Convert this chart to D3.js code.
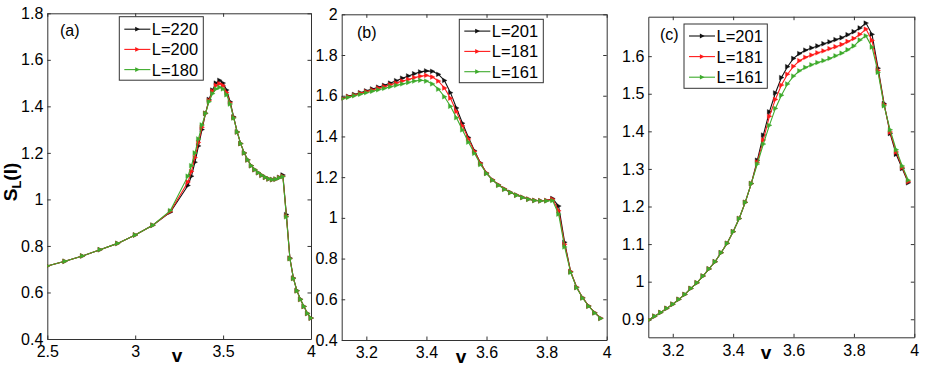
<!DOCTYPE html>
<html><head><meta charset="utf-8">
<script src="https://cdn.jsdelivr.net/npm/d3@7"></script>
<style>html,body{margin:0;padding:0;background:#fff;} svg{display:block;font-family:"Liberation Sans",Arial,Helvetica,sans-serif;}</style>
</head><body>
<div id="chart"></div>
<script>
// ---------- Data ----------
// Panel (a)
const xA = [2.5,2.6,2.7,2.8,2.9,3.0,3.1,3.2,
  3.30,3.32,3.34,3.36,3.38,3.40,3.42,3.44,3.46,3.48,3.50,3.52,3.54,3.56,3.58,3.60,3.62,3.64,3.66,3.68,3.70,3.72,3.74,3.76,3.78,3.80,3.82,3.84,
  3.86,3.88,3.90,3.92,3.94,3.96,3.98,4.00];
const a220 = [0.714,0.734,0.757,0.784,0.811,0.847,0.889,0.945,
  1.06,1.10,1.16,1.23,1.30,1.37,1.43,1.47,1.50,1.512,1.50,1.47,1.42,1.355,1.29,1.24,1.20,1.17,1.145,1.128,1.115,1.104,1.095,1.088,1.085,1.087,1.095,1.105,
  0.935,0.748,0.662,0.608,0.571,0.54,0.51,0.49];
const a200 = [0.714,0.734,0.757,0.784,0.811,0.847,0.889,0.948,
  1.075,1.12,1.18,1.245,1.31,1.37,1.425,1.465,1.49,1.498,1.49,1.46,1.415,1.352,1.29,1.24,1.20,1.17,1.145,1.128,1.115,1.104,1.095,1.088,1.085,1.087,1.094,1.10,
  0.928,0.746,0.661,0.607,0.57,0.54,0.51,0.49];
const a180 = [0.714,0.734,0.757,0.784,0.811,0.847,0.889,0.952,
  1.10,1.145,1.20,1.26,1.32,1.37,1.42,1.455,1.475,1.482,1.475,1.45,1.41,1.35,1.29,1.24,1.20,1.17,1.145,1.128,1.115,1.104,1.095,1.088,1.085,1.087,1.093,1.098,
  0.925,0.745,0.66,0.607,0.57,0.54,0.51,0.49];

// Panels (b) and (c) share the same v grid
const xBC = [3.12,3.14,3.16,3.18,3.20,3.22,3.24,3.26,3.28,3.30,3.32,3.34,3.36,3.38,3.40,3.42,3.44,3.46,3.48,3.50,
  3.52,3.54,3.56,3.58,3.60,3.62,3.64,3.66,3.68,3.70,3.72,3.74,3.76,3.78,3.80,3.82,3.84,3.86,3.88,3.90,3.92,3.94,3.96,3.98];
const b201 = [1.588,1.597,1.606,1.615,1.624,1.633,1.642,1.651,1.662,1.674,1.686,1.697,1.708,1.717,1.722,1.72,1.705,1.675,1.615,1.54,
  1.465,1.395,1.33,1.27,1.22,1.187,1.162,1.142,1.125,1.112,1.101,1.092,1.086,1.084,1.085,1.095,1.058,0.88,0.736,0.659,0.608,0.567,0.534,0.507];
const b181 = [1.586,1.595,1.603,1.612,1.620,1.628,1.637,1.645,1.654,1.663,1.672,1.680,1.689,1.696,1.700,1.692,1.672,1.638,1.588,1.522,
  1.452,1.388,1.326,1.268,1.22,1.187,1.162,1.142,1.125,1.112,1.101,1.092,1.086,1.084,1.085,1.092,1.035,0.87,0.736,0.659,0.608,0.567,0.534,0.507];
const b161 = [1.585,1.592,1.600,1.607,1.615,1.622,1.629,1.636,1.644,1.651,1.658,1.665,1.672,1.676,1.672,1.658,1.632,1.595,1.548,1.492,
  1.432,1.372,1.317,1.262,1.218,1.185,1.16,1.14,1.124,1.111,1.10,1.091,1.085,1.083,1.083,1.085,1.018,0.857,0.732,0.657,0.606,0.566,0.533,0.506];

const c201 = [0.898,0.908,0.918,0.929,0.94,0.953,0.966,0.982,0.997,1.015,1.034,1.053,1.077,1.102,1.133,1.168,1.211,1.261,
  1.323,1.39,1.452,1.502,1.543,1.572,1.594,1.607,1.616,1.622,1.627,1.633,1.638,1.644,1.649,1.657,1.665,1.675,1.688,
  1.658,1.568,1.474,1.394,1.339,1.301,1.263];
const c181 = [0.898,0.908,0.918,0.929,0.94,0.953,0.966,0.982,0.997,1.015,1.034,1.053,1.077,1.102,1.133,1.168,1.211,1.261,
  1.318,1.377,1.44,1.485,1.523,1.552,1.573,1.588,1.597,1.603,1.609,1.614,1.62,1.625,1.631,1.639,1.647,1.658,1.672,
  1.642,1.562,1.471,1.398,1.345,1.304,1.266];
const c161 = [0.898,0.908,0.918,0.929,0.94,0.953,0.966,0.982,0.997,1.015,1.034,1.053,1.077,1.102,1.133,1.168,1.211,1.261,
  1.313,1.366,1.416,1.461,1.496,1.526,1.547,1.561,1.57,1.577,1.583,1.588,1.594,1.601,1.608,1.617,1.627,1.643,1.654,
  1.624,1.557,1.468,1.404,1.351,1.308,1.27];

// Legends / labels
const legendA = ["L=220","L=200","L=180"];
const legendBC = ["L=201","L=181","L=161"];
const panelLabels = ["(a)","(b)","(c)"];
const xLabel = "v";

// Ticks
const xTicksA = [2.5,3,3.5,4];
const yTicksA = [0.4,0.6,0.8,1,1.2,1.4,1.6,1.8];
const xTicksB = [3.2,3.4,3.6,3.8,4];
const yTicksB = [0.4,0.6,0.8,1,1.2,1.4,1.6,1.8,2];
const xTicksC = [3.2,3.4,3.6,3.8,4];
const yTicksC = [0.9,1,1.1,1.2,1.3,1.4,1.5,1.6];

const colors = ["#111111","#ff1a1a","#3eab2c"];

// ---------- Drawing ----------
const W = 926, H = 382;
const svg = d3.select("#chart").append("svg").attr("width", W).attr("height", H);
const fmt = d => String(d);
const tri = "M-2.1,-2.4L2.6,0L-2.1,2.4Z";

function panel(cfg) {
  const x = d3.scaleLinear().domain(cfg.xDomain).range(cfg.xRange);
  const y = d3.scaleLinear().domain(cfg.yDomain).range(cfg.yRange);
  const g = svg.append("g");
  const left = cfg.xRange[0], right = cfg.xRange[1], top = cfg.yRange[1], bottom = cfg.yRange[0];

  // axes with inward ticks on all four sides
  const axB = d3.axisBottom(x).tickValues(cfg.xTicks).tickFormat(fmt).tickSizeInner(-3.5).tickSizeOuter(0).tickPadding(7);
  const axL = d3.axisLeft(y).tickValues(cfg.yTicks).tickFormat(fmt).tickSizeInner(-3.5).tickSizeOuter(0).tickPadding(4);
  const axT = d3.axisTop(x).tickValues(cfg.xTicks).tickFormat("").tickSizeInner(-3.5).tickSizeOuter(0);
  const axR = d3.axisRight(y).tickValues(cfg.yTicks).tickFormat("").tickSizeInner(-3.5).tickSizeOuter(0);
  const gB = g.append("g").attr("transform", `translate(0,${bottom})`).call(axB);
  const gL = g.append("g").attr("transform", `translate(${left},0)`).call(axL);
  const gT = g.append("g").attr("transform", `translate(0,${top})`).call(axT);
  const gR = g.append("g").attr("transform", `translate(${right},0)`).call(axR);
  [gB,gL,gT,gR].forEach(a => {
    a.selectAll("path,line").attr("stroke", "#333").attr("stroke-width", 1);
    a.selectAll("text").attr("fill", "#000").style("font-size", "16px").style("font-family", '"Liberation Sans",Arial,sans-serif');
  });

  // clip
  const clipId = "clip" + cfg.id;
  svg.append("clipPath").attr("id", clipId).append("rect")
    .attr("x", left).attr("y", top - 6).attr("width", right - left + 6).attr("height", bottom - top + 6);

  const plot = g.append("g").attr("clip-path", `url(#${clipId})`);
  const line = d3.line().x(d => x(d[0])).y(d => y(d[1]));
  cfg.series.forEach((s, i) => {
    const pts = cfg.xs.map((v, k) => [v, s[k]]);
    plot.append("path").datum(pts).attr("d", line).attr("fill", "none")
      .attr("stroke", colors[i]).attr("stroke-width", 1.1);
    plot.selectAll(null).data(pts).enter().append("path")
      .attr("d", tri).attr("transform", d => `translate(${x(d[0])},${y(d[1])})`)
      .attr("fill", colors[i]).attr("stroke", colors[i]).attr("stroke-width", 0.3);
  });

  // legend
  const L = cfg.legend;
  g.append("rect").attr("x", L.x).attr("y", L.y).attr("width", L.w).attr("height", L.h)
    .attr("fill", "#fff").attr("stroke", "#333").attr("stroke-width", 1);
  cfg.names.forEach((n, i) => {
    const yy = L.y + L.first + i * L.step;
    g.append("line").attr("x1", L.x + 5).attr("x2", L.x + 31).attr("y1", yy).attr("y2", yy)
      .attr("stroke", colors[i]).attr("stroke-width", 1.1);
    g.append("path").attr("d", tri).attr("transform", `translate(${L.x + 18},${yy})`).attr("fill", colors[i]);
    g.append("text").attr("x", L.x + 32.5).attr("y", yy + 6).text(n)
      .style("font-size", "16.5px").attr("fill", "#000");
  });

  // panel label
  g.append("text").attr("x", cfg.lab[0]).attr("y", cfg.lab[1]).text(cfg.label).style("font-size", "16px");
  // x label
  g.append("text").attr("x", cfg.xl[0]).attr("y", cfg.xl[1]).attr("text-anchor", "middle")
    .text(xLabel).style("font-size", "19px").style("font-weight", "bold");
}

panel({id: "a", xs: xA, series: [a220, a200, a180], names: legendA,
  xDomain: [2.5, 4], yDomain: [0.4, 1.8], xRange: [47.3, 311], yRange: [339, 13.3],
  xTicks: xTicksA, yTicks: yTicksA,
  legend: {x: 119.3, y: 16.7, w: 84, h: 63.5, first: 12.5, step: 20.2},
  label: panelLabels[0], lab: [60, 36], xl: [177, 362]});

panel({id: "b", xs: xBC, series: [b201, b181, b161], names: legendBC,
  xDomain: [3.118, 4], yDomain: [0.4, 2], xRange: [341.7, 606.7], yRange: [340, 14.3],
  xTicks: xTicksB, yTicks: yTicksB,
  legend: {x: 459.3, y: 19.3, w: 84, h: 63.4, first: 11.8, step: 20.3},
  label: panelLabels[1], lab: [357, 38], xl: [461, 363]});

panel({id: "c", xs: xBC, series: [c201, c181, c161], names: legendBC,
  xDomain: [3.119, 4], yDomain: [0.852, 1.705], xRange: [648.3, 914.3], yRange: [337.3, 16.7],
  xTicks: xTicksC, yTicks: yTicksC,
  legend: {x: 684, y: 24, w: 83.3, h: 64.3, first: 12, step: 20.6},
  label: panelLabels[2], lab: [660, 40], xl: [766, 359]});

// y-axis label S_L(l)
const yl = svg.append("text").attr("transform", "translate(17,182) rotate(-90)")
  .attr("text-anchor", "middle").style("font-size", "19px").style("font-weight", "bold");
yl.append("tspan").text("S");
yl.append("tspan").attr("dy", 4).style("font-size", "13px").text("L");
yl.append("tspan").attr("dy", -4).text("(l)");
</script>
</body></html>
